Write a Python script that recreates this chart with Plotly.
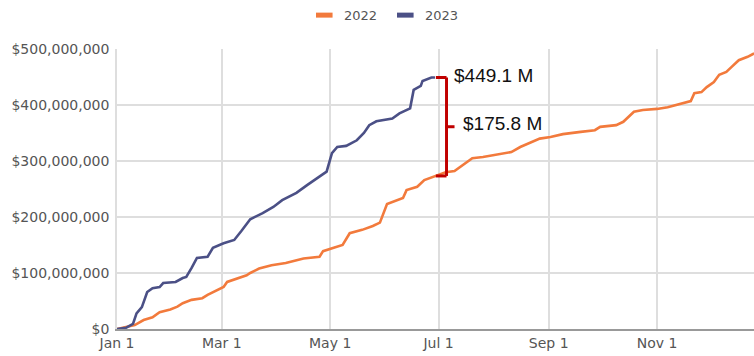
import datetime as dt
import plotly.graph_objects as go

# Cumulative totals (millions of dollars) by calendar day
dates_2022 = [
    "01-01", "01-11", "01-16", "01-21", "01-25", "01-31", "02-04", "02-07", "02-12",
    "02-18", "02-21", "02-24", "03-02", "03-04", "03-10", "03-15", "03-17", "03-22",
    "03-29", "04-06", "04-11", "04-16", "04-25", "04-27", "05-03", "05-08", "05-12",
    "05-19", "05-25", "05-29", "06-02", "06-08", "06-11", "06-13", "06-19", "06-23",
    "06-29", "07-05", "07-10", "07-15", "07-20", "07-26", "08-05", "08-11", "08-16",
    "08-21", "08-27", "09-02", "09-09", "09-19", "09-27", "09-30", "10-09", "10-13",
    "10-16", "10-19", "10-24", "11-01", "11-07", "11-14", "11-20", "11-22", "11-26",
    "11-29", "12-03", "12-06", "12-10", "12-13", "12-17", "12-22", "12-25", "12-31",
]
values_2022 = [
    0, 7, 16, 21, 30, 35, 40, 46, 52,
    55, 61, 66, 75, 84, 91, 96, 100, 108,
    114, 118, 122, 126, 129, 139, 145, 150, 171,
    177, 184, 190, 223, 230, 234, 248, 254, 266,
    273.3, 280, 282, 293, 305, 307, 312, 316, 325,
    332, 340, 343, 348, 352, 355, 361, 364, 370,
    379, 388, 391, 393, 396, 402, 407, 421, 423,
    432, 441, 454, 459, 468, 480, 486, 491, 497,
]

dates_2023 = [
    "01-01", "01-06", "01-10", "01-12", "01-15", "01-18", "01-21", "01-25", "01-27",
    "02-03", "02-07", "02-09", "02-12", "02-15", "02-21", "02-24", "03-02", "03-08",
    "03-12", "03-17", "03-24", "03-30", "04-04", "04-12", "04-18", "04-24", "04-29",
    "05-02", "05-05", "05-10", "05-16", "05-20", "05-23", "05-27", "06-05", "06-09",
    "06-15", "06-17", "06-21", "06-22", "06-27", "06-29",
]
values_2023 = [
    0, 2, 9, 28, 39, 66, 73, 75, 82,
    84, 91, 93, 109, 127, 129, 145, 153, 159,
    175, 196, 207, 218, 230, 243, 257, 270, 281,
    314, 325, 327, 337, 350, 364, 371, 376, 385,
    394, 427, 434, 443, 449, 449.1,
]

series_names = ["2022", "2023"]
series_colors = ["#f27a3c", "#4b5086"]

AXIS_YEAR = "2022"
gap_label = "${:.1f} M"

def on_axis(md):
    return f"{AXIS_YEAR}-{md}"

x22 = [on_axis(d) for d in dates_2022]
x23 = [on_axis(d) for d in dates_2023]
y22 = [v * 1e6 for v in values_2022]
y23 = [v * 1e6 for v in values_2023]

fig = go.Figure()
for name, xs, ys, col in [("2022", x22, y22, series_colors[0]),
                          ("2023", x23, y23, series_colors[1])]:
    fig.add_trace(go.Scatter(x=xs, y=ys, name=name, mode="lines",
                             line=dict(color=col, width=2.6), showlegend=False))

# Gap between the two years at the latest 2023 date
end_md = dates_2023[-1]
top_val = values_2023[-1]
bottom_val = values_2022[dates_2022.index(end_md)]
gap = top_val - bottom_val
mid_val = (top_val + bottom_val) / 2

base = dt.datetime.fromisoformat(on_axis(end_md))
def shift(days):
    return (base + dt.timedelta(days=days)).isoformat()

red = "#c00000"
bx0, bx1, bx2 = shift(0.5), shift(6.5), shift(11)
brace = [
    (bx0, top_val, bx1, top_val),
    (bx1, top_val, bx1, bottom_val),
    (bx0, bottom_val, bx1, bottom_val),
    (shift(5.8), mid_val, bx2, mid_val),
]
for x0, y0, x1, y1 in brace:
    fig.add_shape(type="line", xref="x", yref="y", x0=x0, x1=x1,
                  y0=y0 * 1e6, y1=y1 * 1e6, line=dict(color=red, width=3))

ann_font = dict(family="Liberation Sans, Arial, sans-serif", size=19, color="#111111")
fig.add_annotation(x=shift(9.5), y=top_val * 1e6, text=gap_label.format(top_val),
                   xref="x", yref="y", xanchor="left", yanchor="middle",
                   showarrow=False, font=ann_font, yshift=2)
fig.add_annotation(x=shift(14.5), y=mid_val * 1e6, text=gap_label.format(gap),
                   xref="x", yref="y", xanchor="left", yanchor="middle",
                   showarrow=False, font=ann_font, yshift=3)

# Compact legend above the plot
legend_font = dict(family="DejaVu Sans, sans-serif", size=13, color="#555555")
for i, (name, col) in enumerate(zip(series_names, series_colors)):
    x0 = 0.3124 + i * 0.1272
    fig.add_shape(type="line", xref="paper", yref="paper", x0=x0, x1=x0 + 0.026,
                  y0=1.121, y1=1.121, line=dict(color=col, width=5))
    fig.add_annotation(x=x0 + 0.041, y=1.121, xref="paper", yref="paper", text=name,
                       xanchor="left", yanchor="middle", showarrow=False, font=legend_font)

tick_font = dict(family="DejaVu Sans, sans-serif", size=14, color="#555555")
grid = "#dedede"
fig.update_xaxes(
    type="date",
    range=["2022-01-01", "2022-12-25 14:00"],
    dtick="M2", tick0="2022-01-01", tickformat="%b %-d",
    showgrid=True, gridcolor=grid, gridwidth=1.5,
    showline=True, linecolor="#999999", linewidth=2,
    ticks="", tickfont=tick_font, zeroline=False,
)
fig.update_yaxes(
    range=[0, 5e8], dtick=1e8, tickformat="$,.0f",
    showgrid=True, gridcolor=grid, gridwidth=1.5,
    showline=True, linecolor=grid, linewidth=1.5,
    ticks="", tickfont=tick_font, zeroline=False, ticklabelstandoff=3,
)
fig.update_layout(
    width=754, height=356,
    margin=dict(l=117, r=0, t=49, b=27),
    plot_bgcolor="white", paper_bgcolor="white",
)

fig.write_html("out.html")
